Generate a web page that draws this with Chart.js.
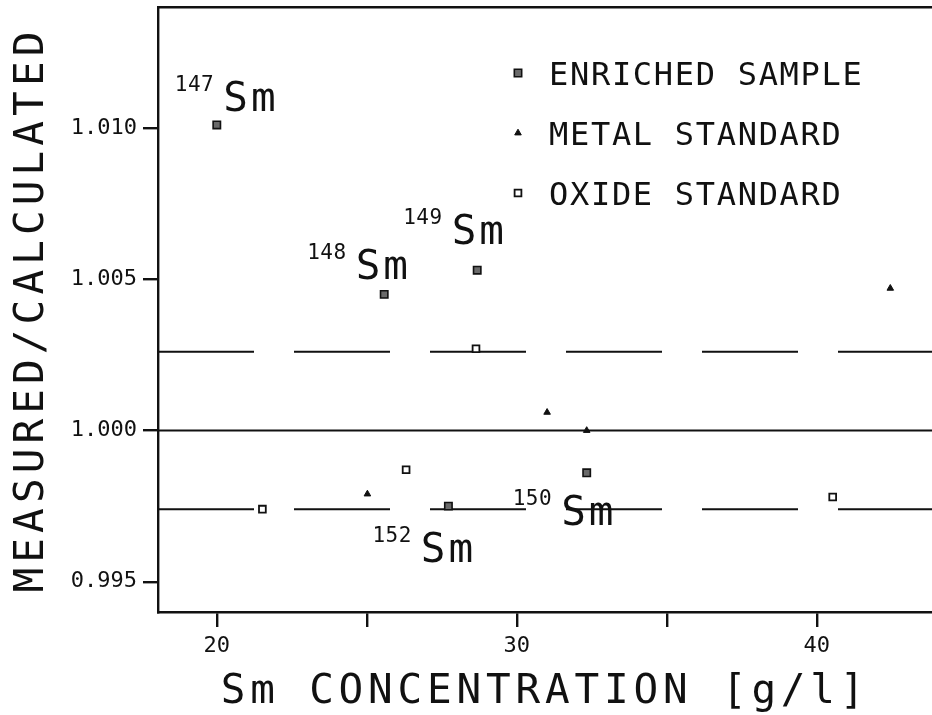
<!DOCTYPE html>
<html>
<head>
<meta charset="utf-8">
<title>Sm concentration</title>
<script src="https://cdn.jsdelivr.net/npm/chart.js@4.4.1/dist/chart.umd.min.js"></script>
<style>
    html, body { margin: 0; padding: 0; background: #fff; overflow: hidden; }
    #chartBox { width: 932px; height: 715px; }
</style>
</head>
<body>
<div id="chartBox"><canvas id="ratioChart" width="932" height="715"></canvas></div>
<script>
// Sm concentration [g/l] and measured/calculated ratio for each sample type
const enrichedConc = [20.0, 25.58, 28.68, 32.33, 27.72];
const enrichedRatio = [1.0101, 1.0045, 1.0053, 0.9986, 0.9975];
const enrichedIsotope = ['147', '148', '149', '150', '152'];

const metalConc = [25.02, 31.01, 32.33, 42.45];
const metalRatio = [0.9979, 1.0006, 1.0000, 1.0047];

const oxideConc = [21.52, 26.31, 28.64, 40.53];
const oxideRatio = [0.9974, 0.9987, 1.0027, 0.9978];

// Reference ratio and the dashed limits around it
const unityRatio = 1.000;
const limitRatios = [1.0026, 0.9974];

// Axes
const xTicks = [20, 25, 30, 35, 40];
const xTickLabels = ['20', '', '30', '', '40'];
const yTicks = [0.995, 1.000, 1.005, 1.010];
const yTickLabels = ['0.995', '1.000', '1.005', '1.010'];
const xRange = [18.04, 43.84];
const yRange = [0.994, 1.014];

const FONT = '"DejaVu Sans Mono", "Liberation Mono", monospace';
const INK = '#111';

// Pixel offsets of the isotope labels from their points
const isotopeLabelOffsets = [[-42, -14], [-77, -15], [-74, -26], [-74, 52], [-76, 56]];

function toPoints(xs, ys) {
    return xs.map((x, i) => ({ x: x, y: ys[i] }));
}

function horizontalLine(value) {
    return [{ x: xRange[0], y: value }, { x: xRange[1], y: value }];
}

const datasets = [
    {
        label: 'ENRICHED SAMPLE',
        data: toPoints(enrichedConc, enrichedRatio),
        pointStyle: 'rect',
        pointRadius: 5.2,
        backgroundColor: '#6a6a6a',
        borderColor: INK,
        borderWidth: 1.6,
        showLine: false,
        order: 0
    },
    {
        label: 'METAL STANDARD',
        data: toPoints(metalConc, metalRatio),
        pointStyle: 'triangle',
        pointRadius: 3.8,
        backgroundColor: INK,
        borderColor: INK,
        borderWidth: 1,
        showLine: false,
        order: 0
    },
    {
        label: 'OXIDE STANDARD',
        data: toPoints(oxideConc, oxideRatio),
        pointStyle: 'rect',
        pointRadius: 4.8,
        backgroundColor: '#fff',
        borderColor: INK,
        borderWidth: 1.8,
        showLine: false,
        order: 0
    },
    {
        label: 'unity',
        data: horizontalLine(unityRatio),
        showLine: true,
        pointRadius: 0,
        borderColor: INK,
        borderWidth: 2,
        order: 5
    },
    ...limitRatios.map(v => ({
        label: 'limit',
        data: horizontalLine(v),
        showLine: true,
        pointRadius: 0,
        borderColor: INK,
        borderWidth: 2,
        borderDash: [96, 40],
        order: 5
    }))
];

const markerSets = 3;

// Text drawn with letter spacing (plotter style lettering)
function spacedText(ctx, text, x, y, size, spacing, align) {
    ctx.font = size + 'px ' + FONT;
    ctx.letterSpacing = spacing + 'px';
    ctx.textAlign = align || 'left';
    ctx.textBaseline = 'alphabetic';
    ctx.fillText(text, x, y);
    const w = ctx.measureText(text).width;
    ctx.letterSpacing = '0px';
    return w;
}

const annotations = {
    id: 'annotations',
    afterDraw(chart) {
        const { ctx, chartArea } = chart;
        const xs = chart.scales.x;
        const ys = chart.scales.y;
        ctx.save();
        ctx.fillStyle = INK;

        // isotope labels next to the enriched points
        enrichedIsotope.forEach((mass, i) => {
            const px = xs.getPixelForValue(enrichedConc[i]) + isotopeLabelOffsets[i][0];
            const py = ys.getPixelForValue(enrichedRatio[i]) + isotopeLabelOffsets[i][1];
            const w = spacedText(ctx, mass, px, py - 20, 21, 0.5);
            spacedText(ctx, 'Sm', px + w + 9, py, 41, 3);
        });

        // legend box inside the plot
        const lx = chartArea.left + 360;
        chart.data.datasets.slice(0, markerSets).forEach((ds, i) => {
            const ly = chartArea.top + 66 + i * 60;
            ctx.fillStyle = ds.backgroundColor;
            ctx.strokeStyle = ds.borderColor;
            ctx.lineWidth = ds.borderWidth;
            Chart.helpers.drawPoint(ctx, {
                pointStyle: ds.pointStyle,
                radius: ds.pointRadius,
                rotation: 0,
                borderWidth: ds.borderWidth
            }, lx, ly);
            ctx.fillStyle = INK;
            spacedText(ctx, ds.label, lx + 31, ly + 12, 32, 1.7);
        });

        // axis titles
        const midX = (chartArea.left + chartArea.right) / 2;
        const midY = (chartArea.top + chartArea.bottom) / 2;
        spacedText(ctx, 'Sm CONCENTRATION [g/l]', midX, 703, 41, 4.8, 'center');
        ctx.translate(43, midY);
        ctx.rotate(-Math.PI / 2);
        spacedText(ctx, 'MEASURED/CALCULATED', 0, 0, 41, 5.1, 'center');
        ctx.restore();
    }
};

const tickFont = { family: FONT, size: 22 };

// fixed axis boxes, no extra room for overhanging tick labels
function fixBox(size) {
    return s => {
        if (s.isHorizontal()) s.height = size; else s.width = size;
        s.paddingTop = 0;
        s.paddingBottom = 0;
        s.paddingLeft = 0;
        s.paddingRight = 0;
    };
}

new Chart(document.getElementById('ratioChart'), {
    type: 'scatter',
    data: { datasets: datasets },
    options: {
        responsive: false,
        animation: false,
        layout: { autoPadding: false, padding: { top: 7, right: 0, bottom: 0, left: 0 } },
        plugins: {
            legend: { display: false },
            tooltip: { enabled: false }
        },
        scales: {
            x: {
                type: 'linear',
                position: 'bottom',
                min: xRange[0],
                max: xRange[1],
                afterBuildTicks: s => { s.ticks = xTicks.map(v => ({ value: v })); },
                afterFit: fixBox(103),
                grid: { drawOnChartArea: false, drawTicks: true, tickLength: 15, color: INK, lineWidth: 2.4 },
                border: { display: true, color: INK, width: 2.4 },
                ticks: {
                    font: tickFont,
                    color: INK,
                    padding: 6,
                    maxRotation: 0,
                    autoSkip: false,
                    callback: (v, i) => xTickLabels[i]
                }
            },
            xTop: {
                type: 'linear',
                axis: 'x',
                position: 'top',
                min: xRange[0],
                max: xRange[1],
                afterFit: fixBox(0),
                grid: { drawOnChartArea: false, drawTicks: false },
                border: { display: true, color: INK, width: 2.4 },
                ticks: { display: false }
            },
            y: {
                type: 'linear',
                min: yRange[0],
                max: yRange[1],
                afterBuildTicks: s => { s.ticks = yTicks.map(v => ({ value: v })); },
                afterFit: fixBox(158),
                grid: { drawOnChartArea: false, drawTicks: true, tickLength: 15, color: INK, lineWidth: 2.4 },
                border: { display: true, color: INK, width: 2.4 },
                ticks: {
                    font: tickFont,
                    color: INK,
                    padding: 6,
                    callback: (v, i) => yTickLabels[i]
                }
            }
        }
    },
    plugins: [annotations]
});
</script>
</body>
</html>
